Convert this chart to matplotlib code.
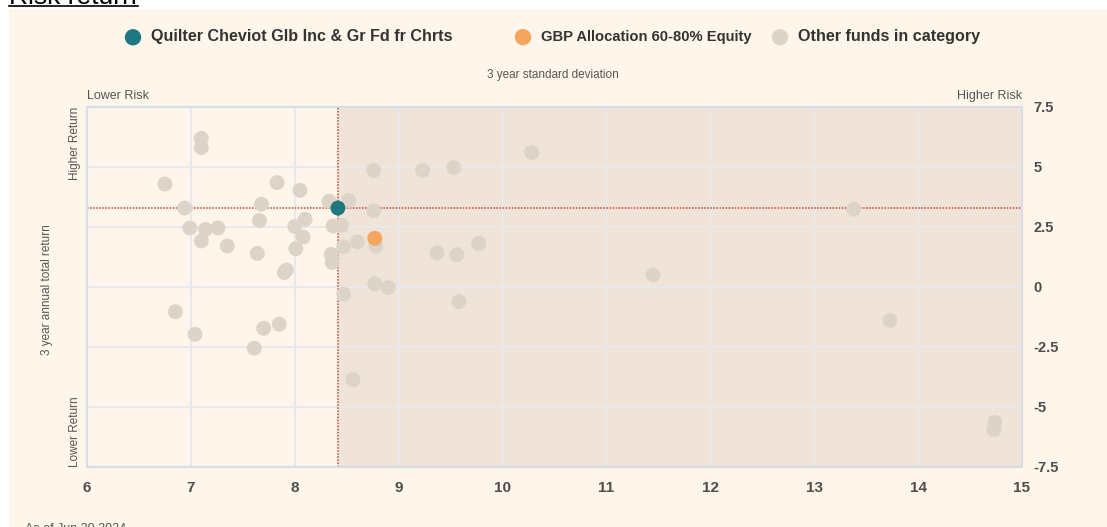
import matplotlib.pyplot as plt
from matplotlib.patches import Rectangle

# fund being reviewed and category average
fund_name = "Quilter Cheviot Glb Inc & Gr Fd fr Chrts"
fund_sd, fund_ret = 8.415, 3.29
cat_name = "GBP Allocation 60-80% Equity"
cat_sd, cat_ret = 8.77, 2.03

# other funds in the category (3y std dev, 3y annual return)
other_sd = [7.10, 7.10, 6.75, 6.94, 6.99, 7.14, 7.10, 7.26, 7.35, 7.83,
            7.68, 7.66, 7.64, 7.92, 7.90, 8.05, 8.00, 8.10, 8.08, 8.01,
            8.33, 8.37, 8.45, 8.35, 8.36, 8.47, 8.52, 8.47, 6.85, 7.04,
            7.70, 7.85, 7.61, 8.56, 8.76, 9.23, 9.53, 10.28, 8.76, 8.60,
            8.78, 9.37, 9.56, 9.77, 8.77, 8.90, 9.58, 11.45, 13.38, 13.73,
            14.74, 14.73]
other_ret = [6.19, 5.81, 4.29, 3.29, 2.46, 2.40, 1.92, 2.46, 1.71, 4.35,
             3.45, 2.77, 1.40, 0.71, 0.60, 4.03, 2.52, 2.82, 2.08, 1.60,
             3.58, 2.54, 2.57, 1.36, 1.02, 1.67, 3.61, -0.30, -1.03, -1.97,
             -1.72, -1.55, -2.55, -3.86, 4.86, 4.86, 4.97, 5.60, 3.18, 1.88,
             1.71, 1.42, 1.35, 1.82, 0.14, -0.03, -0.61, 0.50, 3.24, -1.39,
             -5.64, -5.94]

x_ticks = [6, 7, 8, 9, 10, 11, 12, 13, 14, 15]
y_ticks = [-7.5, -5, -2.5, 0, 2.5, 5, 7.5]
y_labels = ["-7.5", "-5", "-2.5", "0", "2.5", "5", "7.5"]

plt.rcParams['font.family'] = ['Liberation Sans', 'DejaVu Sans']

cream = '#fef6eb'
grey_txt = '#555555'

fig = plt.figure(figsize=(11.07, 5.27), dpi=100, facecolor='white')
fig.patches.append(Rectangle((9 / 1107, 0), 1, 1 - 9 / 527, transform=fig.transFigure,
                             facecolor=cream, edgecolor='none', zorder=-10))

ax = fig.add_axes([87 / 1107, 1 - 467 / 527, 935 / 1107, 360 / 527])
ax.set_facecolor(cream)
ax.set_xlim(6, 15)
ax.set_ylim(-7.5, 7.5)

# higher risk shading
ax.axvspan(fund_sd, 15, color='#efe4d7', zorder=0)

ax.set_xticks(x_ticks)
ax.set_yticks(y_ticks)
ax.set_yticklabels(y_labels)
ax.grid(True, color='#e9e8ec', lw=1.5, zorder=1)
ax.set_axisbelow(True)
ax.tick_params(length=0)
ax.tick_params(axis='x', pad=10, labelsize=11, labelcolor='#4d4d4d')
ax.tick_params(axis='y', left=False, labelleft=False, right=True, labelright=True,
               pad=8, labelsize=10.5, labelcolor='#4d4d4d')
for lab in ax.get_xticklabels() + ax.get_yticklabels():
    lab.set_fontweight('bold')
for s in ax.spines.values():
    s.set_color('#d6dde9')
    s.set_linewidth(1.5)

ax.axvline(fund_sd, color='#c4453a', lw=1.1, ls=(0, (1, 1)), zorder=2)
ax.axhline(fund_ret, color='#c4453a', lw=1.1, ls=(0, (1, 1)), zorder=2)

ax.scatter(other_sd, other_ret, s=115, color='#dcd4c8', edgecolors='none', zorder=3,
           label='Other funds in category')
ax.scatter([cat_sd], [cat_ret], s=115, color='#f5a55e', edgecolors='none', zorder=4,
           label=cat_name)
ax.scatter([fund_sd], [fund_ret], s=115, color='#1e7880', edgecolors='none', zorder=5,
           label=fund_name)

# one legend per entry so each sits where the reference has it
h, l = ax.get_legend_handles_labels()
marker_x = [133, 523, 780]
sizes = [11.6, 10.6, 11.6]
for hh, ll, mx, fs in zip(h[::-1], l[::-1], marker_x, sizes):
    leg = fig.legend([hh], [ll], loc='center left',
                     bbox_to_anchor=((mx - 8) / 1107, 1 - 37 / 527),
                     frameon=False, borderpad=0, borderaxespad=0,
                     handletextpad=0.6 * 11.6 / fs, handlelength=16 / (fs * 100 / 72),
                     markerscale=1.1, prop={'weight': 'bold', 'size': fs})
    for t in leg.get_texts():
        t.set_color('#333333')

fig.text(553 / 1107, 1 - 75 / 527, "3 year standard deviation", ha='center', va='center',
         fontsize=8.5, color=grey_txt)
fig.text(87 / 1107, 1 - 96 / 527, "Lower Risk", ha='left', va='center', fontsize=9,
         color=grey_txt)
fig.text(1022 / 1107, 1 - 96 / 527, "Higher Risk", ha='right', va='center', fontsize=9,
         color=grey_txt)
fig.text(47 / 1107, 1 - 290 / 527, "3 year annual total return", rotation=90,
         ha='center', va='center', fontsize=8.5, color=grey_txt)
fig.text(75 / 1107, 1 - 107 / 527, "Higher Return", rotation=90, ha='center', va='top',
         fontsize=8.5, color=grey_txt)
fig.text(75 / 1107, 1 - 467 / 527, "Lower Return", rotation=90, ha='center', va='bottom',
         fontsize=8.5, color=grey_txt)

# section title (cut at the top of the screenshot) and footnote
fig.text(9 / 1107, 1 - 4 / 527, "Risk return", ha='left', va='baseline',
         fontsize=19, color='black')
fig.add_artist(plt.Line2D([9 / 1107, 138 / 1107], [1 - 6 / 527, 1 - 6 / 527],
                          transform=fig.transFigure, color='black', lw=1.2))
fig.text(25 / 1107, 1 - 523 / 527, "As of Jun 30 2024", ha='left', va='top',
         fontsize=9, color=grey_txt)

fig.savefig('out.png', dpi=100, facecolor='white')
